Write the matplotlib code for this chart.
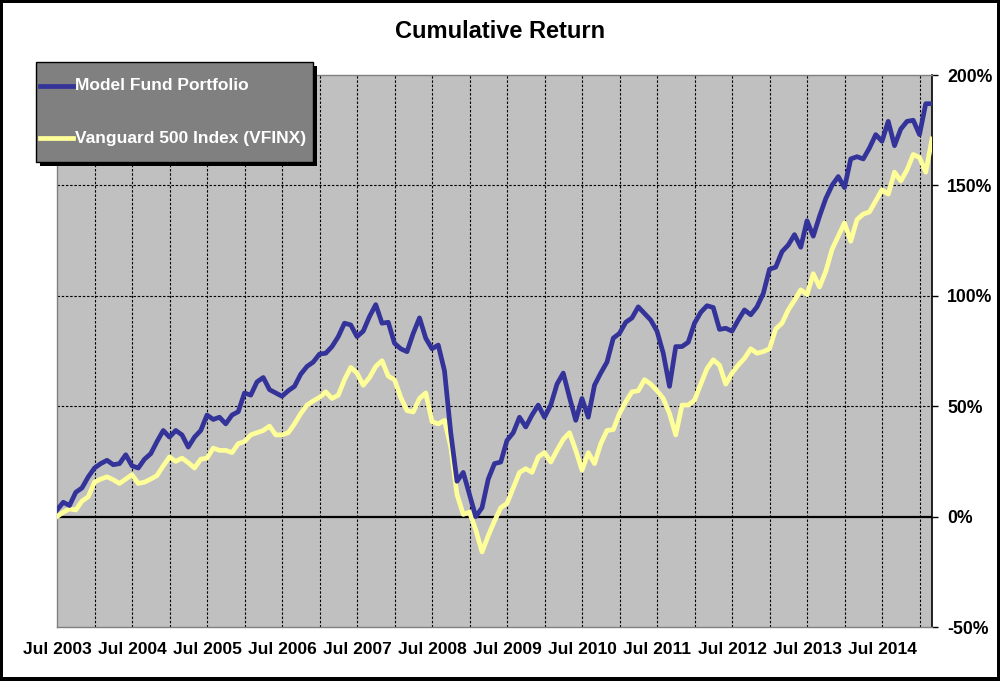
import matplotlib
matplotlib.use('Agg')
import matplotlib.pyplot as plt
from matplotlib.patches import Rectangle
from matplotlib.lines import Line2D
from matplotlib.ticker import FuncFormatter
import numpy as np

plt.rcParams['font.family'] = ['Liberation Sans', 'DejaVu Sans']
plt.rcParams['font.weight'] = 'bold'

# monthly cumulative return (%), Jul 2003 .. Mar 2015
model_fund = [3, 6.5, 5, 11, 13, 18, 22, 24, 25.5, 23.5, 24, 28, 23, 22, 26, 28.5,
              34, 39, 36, 39, 37, 31.5, 36, 39, 46, 44, 45, 42, 46, 47.5, 56, 55,
              61, 63, 57.5, 56, 54.5, 57, 59, 64.5, 68, 70, 73.6, 74, 77, 81.5, 87.6, 86.8,
              81.5, 84, 90.6, 96, 87.6, 88, 78.5, 76, 74.7, 83, 90, 80.8, 76, 77.7,
              66, 38, 16, 20, 10, 0, 4, 17, 24, 24.7, 34.5, 38, 45, 40.6, 46, 50.5,
              45, 50.5, 60, 65, 54, 43.6, 53.5, 45, 59.5, 65, 70, 80.8, 83, 88, 90, 95,
              92, 89, 84, 74, 59, 77, 77, 79, 87.6, 92.5, 95.5, 94.7, 84.8, 85.3, 84, 89,
              93.6, 91.4, 95, 101, 112, 113, 120, 123, 127.7, 122, 134, 127, 136, 144, 150, 154,
              149, 162, 163, 162, 167, 173, 170, 179, 168, 175.5, 179, 179.5, 173, 187, 187]
vfinx = [0, 2, 3.5, 3, 7, 9, 15.6, 17, 18, 16.7, 15, 17, 19, 15, 15.6, 17,
         18.6, 23, 27, 25, 26.5, 24.4, 22, 26, 26.5, 31, 30, 30, 29, 33, 34, 37,
         38, 39, 41, 37, 37, 38, 42, 46.7, 50.5, 52.4, 54, 56.5, 53.5, 55, 62, 67.6,
         65, 59.5, 63, 68, 70.6, 63.6, 62, 54, 48, 47.4, 53.5, 56, 43, 42,
         43.6, 31.5, 10, 1, 2, -6, -16, -8.6, -2, 4, 6, 13, 20, 21.7, 20, 27,
         29, 24.7, 30, 35, 38, 30, 21, 29, 24, 33, 39, 39.4, 46.7, 52, 56.5, 57,
         62, 60, 57, 53.5, 46.7, 37, 50.5, 50.5, 52.7, 60, 67, 71, 68.6, 60, 65, 68.6,
         71.7, 76, 74, 74.7, 76, 85, 87.6, 93.6, 98, 102.7, 100.5, 110, 104, 111, 121, 127,
         133, 124.7, 134.5, 137, 138, 143, 148, 146, 156, 152, 157, 164, 162.6, 156, 171]
series_names = ['Model Fund Portfolio', 'Vanguard 500 Index (VFINX)']
series_colors = ['#333399', '#FFFF99']
year_labels = ['Jul 2003', 'Jul 2004', 'Jul 2005', 'Jul 2006', 'Jul 2007', 'Jul 2008',
               'Jul 2009', 'Jul 2010', 'Jul 2011', 'Jul 2012', 'Jul 2013', 'Jul 2014']
y_ticks = [-50, 0, 50, 100, 150, 200]

months = np.arange(len(model_fund))
W, H = 1000, 681


def fx(px):
    return px / W


def fy(py):
    return 1 - py / H


fig = plt.figure(figsize=(10, 6.81), dpi=100)
fig.patch.set_facecolor('black')
fig.add_artist(Rectangle((fx(3), fy(677)), fx(994), 674 / H, transform=fig.transFigure,
                         facecolor='white', edgecolor='none', zorder=0))

ax = fig.add_axes([fx(57), fy(627), fx(875), 552 / H])
ax.set_facecolor('#C0C0C0')

grid_style = dict(color='black', lw=0.8, ls=(0, (2.2, 1.6)), zorder=1)
for m in range(6, len(months), 6):
    ax.axvline(m, **grid_style)
for v in y_ticks[2:-1]:
    ax.axhline(v, **grid_style)
ax.axhline(0, color='black', lw=1.6, zorder=2)

ax.plot(months, model_fund, color=series_colors[0], lw=3.4, label=series_names[0],
        zorder=4, solid_joinstyle='round')
ax.plot(months, vfinx, color=series_colors[1], lw=3.4, label=series_names[1],
        zorder=3, solid_joinstyle='round')

ax.set_xlim(0, len(months) - 1)
ax.set_ylim(-50, 200)
ax.set_xticks(np.arange(0, len(months), 12))
ax.set_xticklabels(year_labels, fontsize=12.5, fontweight='bold')
ax.tick_params(axis='x', length=0, pad=11)

ax.yaxis.tick_right()
ax.set_yticks(y_ticks)
ax.yaxis.set_major_formatter(FuncFormatter(lambda v, p: '%d%%' % v))
ax.tick_params(axis='y', length=4, width=1, pad=7, labelsize=12.7, direction='out')
for lab in ax.get_yticklabels():
    lab.set_fontweight('bold')

for side in ['top', 'left', 'bottom']:
    ax.spines[side].set_color('#808080')
    ax.spines[side].set_linewidth(1)
ax.spines['right'].set_color('black')
ax.spines['right'].set_linewidth(1.2)

fig.text(0.5, fy(32), 'Cumulative Return', ha='center', va='center',
         fontsize=17, fontweight='bold')

# legend box drawn by hand (Excel style with hard shadow)
fig.add_artist(Rectangle((fx(40), fy(166)), fx(277), 100 / H, transform=fig.transFigure,
                         facecolor='black', edgecolor='none', zorder=9))
fig.add_artist(Rectangle((fx(36), fy(162)), fx(277), 100 / H, transform=fig.transFigure,
                         facecolor='#808080', edgecolor='black', lw=1, zorder=10))
for name, color, row_y in zip(series_names, series_colors, [86, 138]):
    fig.add_artist(Line2D([fx(40), fx(73)], [fy(row_y), fy(row_y)], color=color, lw=3.4,
                          transform=fig.transFigure, zorder=11))
    fig.text(fx(75), fy(row_y), name, ha='left', va='center', color='white',
             fontsize=12.5, fontweight='bold', zorder=11)

fig.savefig('out.png', dpi=100, facecolor=fig.get_facecolor())
